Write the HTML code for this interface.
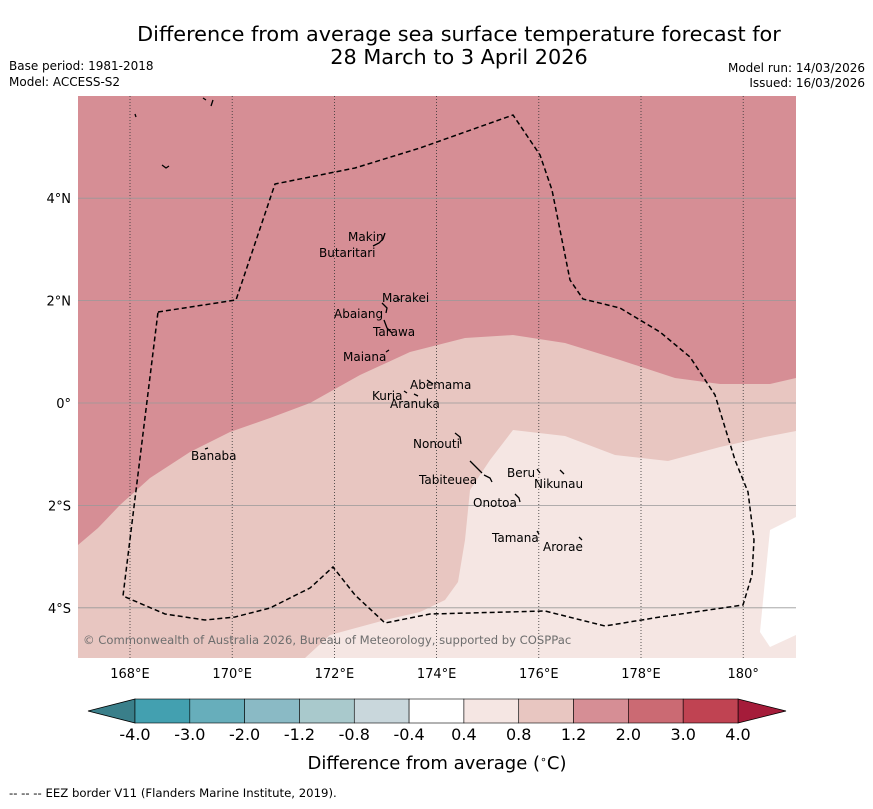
<!DOCTYPE html>
<html><head><meta charset="utf-8"><style>
body{margin:0;background:#fff;}
svg text{font-family:"DejaVu Sans","Liberation Sans",sans-serif;}
</style></head><body>
<svg width="873" height="804" viewBox="0 0 873 804" xmlns="http://www.w3.org/2000/svg">
<text x="459" y="41" font-size="20.8" text-anchor="middle">Difference from average sea surface temperature forecast for</text>
<text x="459" y="64" font-size="20.8" text-anchor="middle">28 March to 3 April 2026</text>
<text x="9" y="70" font-size="12">Base period: 1981-2018</text>
<text x="9" y="86" font-size="12">Model: ACCESS-S2</text>
<text x="865" y="72" font-size="12" text-anchor="end">Model run: 14/03/2026</text>
<text x="865" y="87" font-size="12" text-anchor="end">Issued: 16/03/2026</text>

<g>
<clipPath id="mc"><rect x="78" y="96" width="718" height="562"/></clipPath>
<g clip-path="url(#mc)">
<rect x="78" y="96" width="718" height="562" fill="#e8c6c1"/>
<path fill="#d68e95" d="M78,96 L796,96 L796,378 L770,384 L720,384 L675,378 L620,360 L565,343 L513,335 L465,338 L410,352 L360,375 L310,403 L270,418 L230,432 L190,452 L150,478 L120,505 L98,528 L78,545 Z"/>
<path fill="#f5e6e3" d="M305,658 L330,635 L385,620 L420,612 L445,600 L458,582 L465,540 L470,490 L490,460 L513,430 L565,436 L615,455 L668,461 L720,447 L765,437 L796,431 L796,658 Z"/>
<path fill="#ffffff" d="M796,517 L770,530 L765,580 L760,632 L770,647 L796,635 Z"/>
</g>
<g id="grid" stroke-width="0.8"></g>
<path fill="none" stroke="#000" stroke-width="1.5" stroke-dasharray="5,3" d="M158,312 L236,300 L275,184 L355,168 L420,148 L513,115 L540,155 L552,190 L570,280 L583,299 L620,308 L660,332 L690,357 L715,395 L735,460 L748,492 L754,540 L752,575 L743,605 L660,617 L605,626 L545,611 L430,614 L385,623 L355,595 L333,567 L310,588 L270,608 L235,617 L205,620 L165,614 L123,596 Z"/>
<g fill="none" stroke="#000" stroke-width="1.3">
<path d="M373,246 l6,-3 l4,-4 l2,-6"/><path d="M397,298 l3,2"/><path d="M382,303 l5,5 l-1,5"/><path d="M384,320 l3,8 l5,5"/><path d="M386,352 l3,-2"/><path d="M427,380 l6,4"/><path d="M404,391 l3,2 M414,394 l4,2"/><path d="M455,433 l5,4 l1,7"/><path d="M470,461 l8,8 l4,4 M484,475 l6,3 l2,4"/><path d="M537,469 l3,4 M560,470 l4,4"/><path d="M515,494 l4,4 l1,4"/><path d="M537,531 l2,3 M579,537 l3,3"/><path d="M205,449 l3,-1"/><path d="M135,114 l1,3 M162,165 l4,3 l3,-2 M203,98 l3,2 M213,100 l-2,6"/>
</g>
<g font-size="12">
<text x="348" y="241">Makin</text><text x="319" y="257">Butaritari</text><text x="382" y="302">Marakei</text><text x="334" y="318">Abaiang</text><text x="373" y="336">Tarawa</text><text x="343" y="361">Maiana</text><text x="410" y="389">Abemama</text><text x="372" y="400">Kuria</text><text x="390" y="408">Aranuka</text><text x="413" y="448">Nonouti</text><text x="191" y="460">Banaba</text><text x="507" y="477">Beru</text><text x="419" y="484">Tabiteuea</text><text x="534" y="488">Nikunau</text><text x="473" y="507">Onotoa</text><text x="492" y="542">Tamana</text><text x="543" y="551">Arorae</text>
</g>
<text x="83" y="644" font-size="11.6" fill="#6e6e6e">© Commonwealth of Australia 2026, Bureau of Meteorology, supported by COSPPac</text>
<g id="axes" font-size="13"></g>
</g>

<g id="cbar"></g>
<text x="437" y="769" font-size="18" text-anchor="middle">Difference from average (<tspan baseline-shift="super" font-size="11">∘</tspan>C)</text>
<text x="9" y="797" font-size="11.7">--  --  -- EEZ border V11 (Flanders Marine Institute, 2019).</text>
</svg>
<script>
const lonTicks=[168,170,172,174,176,178,180];
const lonLabels=["168°E","170°E","172°E","174°E","176°E","178°E","180°"];
const latTicks=[4,2,0,-2,-4];
const latLabels=["4°N","2°N","0°","2°S","4°S"];
const cbarLevels=["-4.0","-3.0","-2.0","-1.2","-0.8","-0.4","0.4","0.8","1.2","2.0","3.0","4.0"];
const cbarColors=["#43a0b0","#67aebb","#8abac5","#a9c9cc","#c9d7dc","#ffffff","#f5e6e3","#e8c6c1","#d68e95","#cb6a73","#c04352"];
const NS="http://www.w3.org/2000/svg";
function xs(lon){return 130+(lon-168)*51.1;}
function ys(lat){return 403-lat*51.2;}
function mk(t,a,p){const e=document.createElementNS(NS,t);for(const k in a)e.setAttribute(k,a[k]);p.appendChild(e);return e;}
const grid=document.getElementById('grid'),axes=document.getElementById('axes');
lonTicks.forEach((v,i)=>{
 const l=mk('line',{x1:xs(v),x2:xs(v),y1:96,y2:658,stroke:'#333','stroke-dasharray':'1,2'},grid);
 
 
 const t=mk('text',{x:xs(v),y:678,'text-anchor':'middle'},axes);t.textContent=lonLabels[i];
 
 
});
latTicks.forEach((v,i)=>{
 const l=mk('line',{x1:78,x2:796,y1:ys(v),y2:ys(v),stroke:'#999'},grid);
 
 
 const t=mk('text',{x:71,y:ys(v)+5,'text-anchor':'end'},axes);t.textContent=latLabels[i];
 
 
});
const cb=document.getElementById('cbar');
const x0=135,x1=738,yt=699,yb=723,w=(x1-x0)/cbarColors.length;
const lt=mk('path',{d:`M${x0},${yt} L88,${(yt+yb)/2} L${x0},${yb} Z`,fill:'#3a7f8a',stroke:'#000','stroke-width':0.8},cb);


const rt=mk('path',{d:`M${x1},${yt} L786,${(yt+yb)/2} L${x1},${yb} Z`,fill:'#a51c3a',stroke:'#000','stroke-width':0.8},cb);


cbarColors.forEach((c,i)=>{
 const r=mk('rect',{x:x0+i*w,y:yt,width:w,height:yb-yt,fill:c,stroke:'#000','stroke-width':0.6},cb);
 
 
});
cbarLevels.forEach((s,i)=>{
 const t=mk('text',{x:x0+i*w,y:740,'font-size':16,'text-anchor':'middle'},cb);t.textContent=s;
 
 
});
</script>
</body></html>
